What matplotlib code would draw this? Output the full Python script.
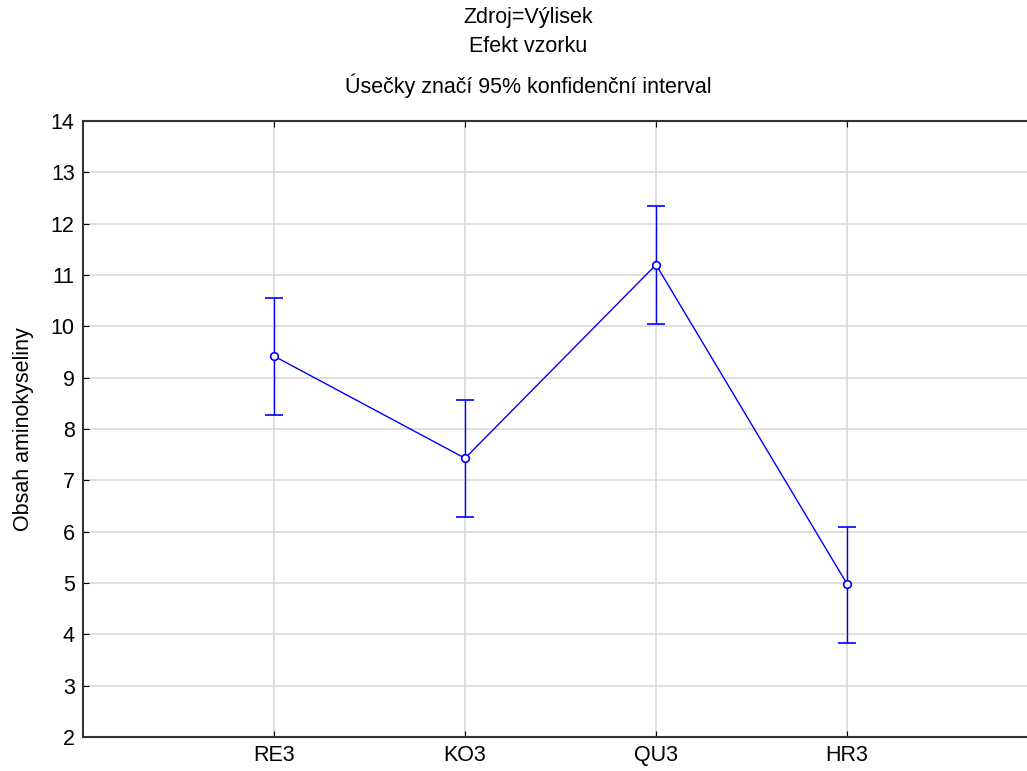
import numpy as np
import matplotlib.pyplot as plt

plt.rcParams['font.family'] = ['Liberation Sans', 'DejaVu Sans']

# data
samples = ['RE3', 'KO3', 'QU3', 'HR3']
means = [9.42, 7.43, 11.20, 4.98]
ci_low = [8.28, 6.28, 10.05, 3.84]
ci_high = [10.56, 8.57, 12.34, 6.10]

x = np.arange(len(samples))
means = np.array(means)
err = [means - np.array(ci_low), np.array(ci_high) - means]

fig = plt.figure(figsize=(10.27, 7.71), dpi=100)
ax = fig.add_axes([0.0808, 0.0441, 0.930, 0.799])

ax.errorbar(x, means, yerr=err, color='#0000ff', lw=1, capsize=6.5, capthick=1,
            marker='o', ms=5.5, mfc='white', mec='#0000ff', mew=1.2, zorder=3)

ax.set_xlim(-1, 4)
ax.set_ylim(2, 14)
ax.set_xticks(x)
ax.set_xticklabels(samples)
ax.set_yticks(range(2, 15))
ax.grid(True, color='#d9d9d9', lw=1.2)
ax.set_axisbelow(True)
ax.tick_params(direction='in', length=4, labelsize=15.5, top=True, right=False, pad=6)
for s in ax.spines.values():
    s.set_color('#333333')
    s.set_linewidth(1.5)
ax.set_ylabel('Obsah aminokyseliny', fontsize=15.5, labelpad=12)

fig.text(0.514, 1 - 18 / 771, 'Zdroj=Výlisek', ha='center', va='center', fontsize=15.5)
fig.text(0.514, 1 - 47 / 771, 'Efekt vzorku', ha='center', va='center', fontsize=15.5)
fig.text(0.514, 1 - 86 / 771, 'Úsečky značí 95% konfidenční interval', ha='center', va='center', fontsize=15.5)

fig.savefig('out.png', dpi=100)
